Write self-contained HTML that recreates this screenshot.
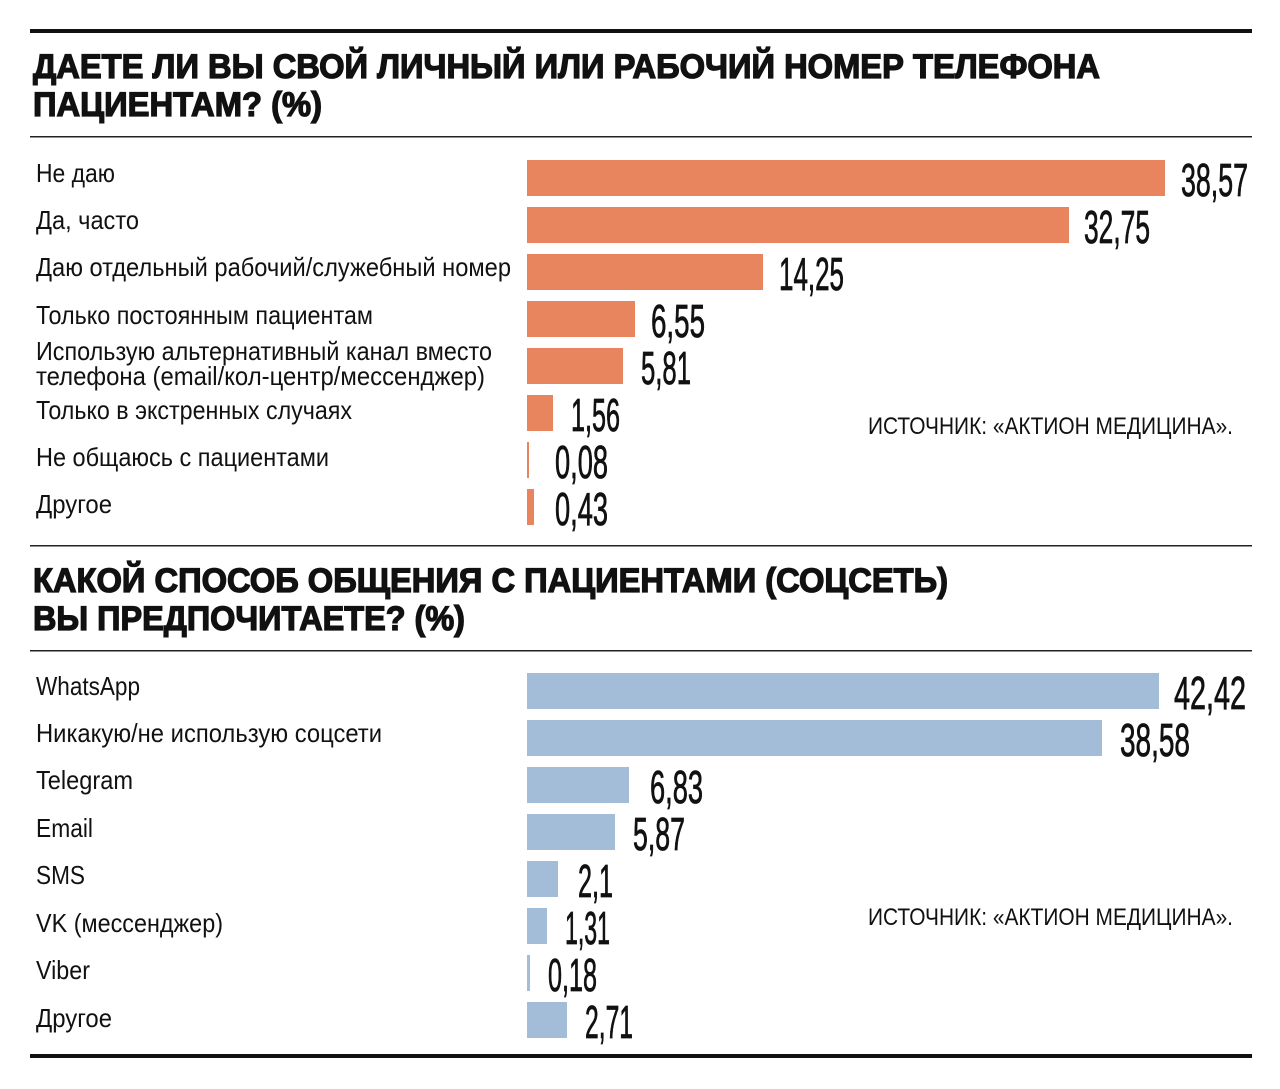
<!DOCTYPE html>
<html><head><meta charset="utf-8"><style>
html,body{margin:0;padding:0;background:#fff;}
svg{display:block;}
text{font-family:"Liberation Sans",sans-serif;fill:#111;}
.t{font-weight:bold;font-size:34px;stroke:#111;stroke-width:1.3;}
.l{font-size:26px;}
.v{font-size:46px;stroke:#111;stroke-width:0.8;}
.s{font-size:24px;}
</style></head><body>
<svg width="1280" height="1089" viewBox="0 0 1280 1089">
<rect x="30" y="29" width="1222" height="4" fill="#111"/>
<text class="t" x="33" y="78" textLength="1067" lengthAdjust="spacingAndGlyphs">ДАЕТЕ ЛИ ВЫ СВОЙ ЛИЧНЫЙ ИЛИ РАБОЧИЙ НОМЕР ТЕЛЕФОНА</text>
<text class="t" x="33" y="116" textLength="289" lengthAdjust="spacingAndGlyphs">ПАЦИЕНТАМ? (%)</text>
<rect x="30" y="136" width="1222" height="1.5" fill="#222"/>

<g fill="#E8845E">
<rect x="527" y="160" width="638" height="36"/>
<rect x="527" y="207" width="542" height="36"/>
<rect x="527" y="254" width="236" height="36"/>
<rect x="527" y="301" width="108" height="36"/>
<rect x="527" y="348" width="96" height="36"/>
<rect x="527" y="395" width="26" height="36"/>
<rect x="527" y="442" width="2" height="36"/>
<rect x="527" y="489" width="7" height="36"/>
</g>
<text class="l" x="36" y="182" textLength="79" lengthAdjust="spacingAndGlyphs">Не даю</text>
<text class="l" x="36" y="229" textLength="103" lengthAdjust="spacingAndGlyphs">Да, часто</text>
<text class="l" x="36" y="276" textLength="475" lengthAdjust="spacingAndGlyphs">Даю отдельный рабочий/служебный номер</text>
<text class="l" x="36" y="324" textLength="337" lengthAdjust="spacingAndGlyphs">Только постоянным пациентам</text>
<text class="l" x="36" y="360" textLength="456" lengthAdjust="spacingAndGlyphs">Использую альтернативный канал вместо</text>
<text class="l" x="36" y="385" textLength="449" lengthAdjust="spacingAndGlyphs">телефона (email/кол-центр/мессенджер)</text>
<text class="l" x="36" y="419" textLength="316" lengthAdjust="spacingAndGlyphs">Только в экстренных случаях</text>
<text class="l" x="36" y="466" textLength="293" lengthAdjust="spacingAndGlyphs">Не общаюсь с пациентами</text>
<text class="l" x="36" y="513" textLength="76" lengthAdjust="spacingAndGlyphs">Другое</text>

<text class="v" x="1181" y="196" textLength="67" lengthAdjust="spacingAndGlyphs">38,57</text>
<text class="v" x="1084" y="243" textLength="66" lengthAdjust="spacingAndGlyphs">32,75</text>
<text class="v" x="779" y="290" textLength="65" lengthAdjust="spacingAndGlyphs">14,25</text>
<text class="v" x="651" y="337" textLength="54" lengthAdjust="spacingAndGlyphs">6,55</text>
<text class="v" x="641" y="384" textLength="50" lengthAdjust="spacingAndGlyphs">5,81</text>
<text class="v" x="571" y="431" textLength="49" lengthAdjust="spacingAndGlyphs">1,56</text>
<text class="v" x="555" y="478" textLength="53" lengthAdjust="spacingAndGlyphs">0,08</text>
<text class="v" x="555" y="525" textLength="53" lengthAdjust="spacingAndGlyphs">0,43</text>
<text class="s" x="868" y="434" textLength="365" lengthAdjust="spacingAndGlyphs">ИСТОЧНИК: «АКТИОН МЕДИЦИНА».</text>

<rect x="30" y="545" width="1222" height="1.5" fill="#222"/>
<text class="t" x="33" y="592" textLength="915" lengthAdjust="spacingAndGlyphs">КАКОЙ СПОСОБ ОБЩЕНИЯ С ПАЦИЕНТАМИ (СОЦСЕТЬ)</text>
<text class="t" x="33" y="630" textLength="432" lengthAdjust="spacingAndGlyphs">ВЫ ПРЕДПОЧИТАЕТЕ? (%)</text>
<rect x="30" y="650" width="1222" height="1.5" fill="#222"/>

<g fill="#A3BDD8">
<rect x="527" y="673" width="632" height="36"/>
<rect x="527" y="720" width="575" height="36"/>
<rect x="527" y="767" width="102" height="36"/>
<rect x="527" y="814" width="88" height="36"/>
<rect x="527" y="861" width="31" height="36"/>
<rect x="527" y="908" width="20" height="36"/>
<rect x="527" y="955" width="3" height="36"/>
<rect x="527" y="1002" width="40" height="36"/>
</g>
<text class="l" x="36" y="695" textLength="104" lengthAdjust="spacingAndGlyphs">WhatsApp</text>
<text class="l" x="36" y="742" textLength="346" lengthAdjust="spacingAndGlyphs">Никакую/не использую соцсети</text>
<text class="l" x="36" y="789" textLength="97" lengthAdjust="spacingAndGlyphs">Telegram</text>
<text class="l" x="36" y="837" textLength="57" lengthAdjust="spacingAndGlyphs">Email</text>
<text class="l" x="36" y="884" textLength="49" lengthAdjust="spacingAndGlyphs">SMS</text>
<text class="l" x="36" y="932" textLength="187" lengthAdjust="spacingAndGlyphs">VK (мессенджер)</text>
<text class="l" x="36" y="979" textLength="54" lengthAdjust="spacingAndGlyphs">Viber</text>
<text class="l" x="36" y="1027" textLength="76" lengthAdjust="spacingAndGlyphs">Другое</text>

<text class="v" x="1174" y="709" textLength="72" lengthAdjust="spacingAndGlyphs">42,42</text>
<text class="v" x="1120" y="756" textLength="70" lengthAdjust="spacingAndGlyphs">38,58</text>
<text class="v" x="650" y="803" textLength="53" lengthAdjust="spacingAndGlyphs">6,83</text>
<text class="v" x="633" y="850" textLength="52" lengthAdjust="spacingAndGlyphs">5,87</text>
<text class="v" x="578" y="897" textLength="35" lengthAdjust="spacingAndGlyphs">2,1</text>
<text class="v" x="565" y="944" textLength="45" lengthAdjust="spacingAndGlyphs">1,31</text>
<text class="v" x="548" y="991" textLength="49" lengthAdjust="spacingAndGlyphs">0,18</text>
<text class="v" x="585" y="1038" textLength="48" lengthAdjust="spacingAndGlyphs">2,71</text>
<text class="s" x="868" y="925" textLength="365" lengthAdjust="spacingAndGlyphs">ИСТОЧНИК: «АКТИОН МЕДИЦИНА».</text>

<rect x="30" y="1054" width="1222" height="4" fill="#111"/>
</svg>
</body></html>
